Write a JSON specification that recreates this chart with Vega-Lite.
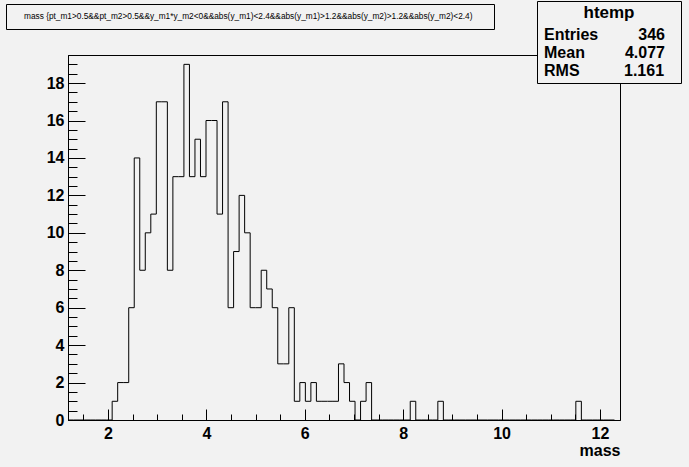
{
  "$schema": "https://vega.github.io/schema/vega-lite/v6.json",
  "autosize": "none",
  "width": 552,
  "height": 365,
  "padding": {"left": 68, "top": 55, "right": 69, "bottom": 47},
  "background": "#f2f2f2",
  "config": {
    "view": {"stroke": "black", "strokeWidth": 1, "fill": "#f2f2f2"},
    "axis": {
      "grid": false,
      "domainColor": "black",
      "tickColor": "black",
      "tickWidth": 1,
      "labelFont": "Liberation Sans",
      "labelFontSize": 16,
      "labelFontWeight": "bold",
      "labelColor": "black",
      "labelOverlap": false,
      "labelFlush": false,
      "titleFont": "Liberation Sans",
      "titleFontSize": 16,
      "titleFontWeight": "bold",
      "titleColor": "black"
    }
  },
  "layer": [
    {
      "data": {"values": [
        {"lo": 1.187, "n": 0}, {"lo": 1.2992, "n": 0}, {"lo": 1.4114, "n": 0}, {"lo": 1.5236, "n": 0},
        {"lo": 1.6358, "n": 0}, {"lo": 1.748, "n": 0}, {"lo": 1.8602, "n": 0}, {"lo": 1.9724, "n": 0},
        {"lo": 2.0846, "n": 1}, {"lo": 2.1968, "n": 2}, {"lo": 2.309, "n": 2}, {"lo": 2.4212, "n": 6},
        {"lo": 2.5334, "n": 14}, {"lo": 2.6456, "n": 8}, {"lo": 2.7578, "n": 10}, {"lo": 2.87, "n": 11},
        {"lo": 2.9822, "n": 17}, {"lo": 3.0944, "n": 17}, {"lo": 3.2066, "n": 8}, {"lo": 3.3188, "n": 13},
        {"lo": 3.431, "n": 13}, {"lo": 3.5432, "n": 19}, {"lo": 3.6554, "n": 13}, {"lo": 3.7676, "n": 15},
        {"lo": 3.8798, "n": 13}, {"lo": 3.992, "n": 16}, {"lo": 4.1042, "n": 16}, {"lo": 4.2164, "n": 11},
        {"lo": 4.3286, "n": 17}, {"lo": 4.4408, "n": 6}, {"lo": 4.553, "n": 9}, {"lo": 4.6652, "n": 12},
        {"lo": 4.7774, "n": 10}, {"lo": 4.8896, "n": 6}, {"lo": 5.0018, "n": 6}, {"lo": 5.114, "n": 8},
        {"lo": 5.2262, "n": 7}, {"lo": 5.3384, "n": 6}, {"lo": 5.4506, "n": 3}, {"lo": 5.5628, "n": 3},
        {"lo": 5.675, "n": 6}, {"lo": 5.7872, "n": 1}, {"lo": 5.8994, "n": 2}, {"lo": 6.0116, "n": 1},
        {"lo": 6.1238, "n": 2}, {"lo": 6.236, "n": 1}, {"lo": 6.3482, "n": 1}, {"lo": 6.4604, "n": 1},
        {"lo": 6.5726, "n": 1}, {"lo": 6.6848, "n": 3}, {"lo": 6.797, "n": 2}, {"lo": 6.9092, "n": 1},
        {"lo": 7.0214, "n": 0}, {"lo": 7.1336, "n": 1}, {"lo": 7.2458, "n": 2}, {"lo": 7.358, "n": 0},
        {"lo": 7.4702, "n": 0}, {"lo": 7.5824, "n": 0}, {"lo": 7.6946, "n": 0}, {"lo": 7.8068, "n": 0},
        {"lo": 7.919, "n": 0}, {"lo": 8.0312, "n": 0}, {"lo": 8.1434, "n": 1}, {"lo": 8.2556, "n": 0},
        {"lo": 8.3678, "n": 0}, {"lo": 8.48, "n": 0}, {"lo": 8.5922, "n": 0}, {"lo": 8.7044, "n": 1},
        {"lo": 8.8166, "n": 0}, {"lo": 8.9288, "n": 0}, {"lo": 9.041, "n": 0}, {"lo": 9.1532, "n": 0},
        {"lo": 9.2654, "n": 0}, {"lo": 9.3776, "n": 0}, {"lo": 9.4898, "n": 0}, {"lo": 9.602, "n": 0},
        {"lo": 9.7142, "n": 0}, {"lo": 9.8264, "n": 0}, {"lo": 9.9386, "n": 0}, {"lo": 10.0508, "n": 0},
        {"lo": 10.163, "n": 0}, {"lo": 10.2752, "n": 0}, {"lo": 10.3874, "n": 0}, {"lo": 10.4996, "n": 0},
        {"lo": 10.6118, "n": 0}, {"lo": 10.724, "n": 0}, {"lo": 10.8362, "n": 0}, {"lo": 10.9484, "n": 0},
        {"lo": 11.0606, "n": 0}, {"lo": 11.1728, "n": 0}, {"lo": 11.285, "n": 0}, {"lo": 11.3972, "n": 0},
        {"lo": 11.5094, "n": 1}, {"lo": 11.6216, "n": 0}, {"lo": 11.7338, "n": 0}, {"lo": 11.846, "n": 0},
        {"lo": 11.9582, "n": 0}, {"lo": 12.0704, "n": 0}, {"lo": 12.1826, "n": 0}, {"lo": 12.2948, "n": 0}
      ]},
      "mark": {"type": "line", "interpolate": "step-after", "color": "black", "strokeWidth": 1},
      "encoding": {
        "x": {
          "field": "lo", "type": "quantitative",
          "scale": {"domain": [1.187, 12.407], "nice": false, "zero": false},
          "axis": {
            "title": "mass",
            "titleAnchor": "end",
            "titlePadding": -4,
            "values": [1.5, 2, 2.5, 3, 3.5, 4, 4.5, 5, 5.5, 6, 6.5, 7, 7.5, 8, 8.5, 9, 9.5, 10, 10.5, 11, 11.5, 12],
            "tickSize": {"condition": {"test": "datum.value % 2 === 0", "value": -11}, "value": -6},
            "labelPadding": 16,
            "labelExpr": "datum.value % 2 === 0 ? format(datum.value, 'd') : ''"
          }
        },
        "y": {
          "field": "n", "type": "quantitative",
          "scale": {"domain": [0, 19.5], "nice": false},
          "axis": {
            "title": null,
            "values": [0, 0.5, 1, 1.5, 2, 2.5, 3, 3.5, 4, 4.5, 5, 5.5, 6, 6.5, 7, 7.5, 8, 8.5, 9, 9.5, 10, 10.5, 11, 11.5, 12, 12.5, 13, 13.5, 14, 14.5, 15, 15.5, 16, 16.5, 17, 17.5, 18, 18.5, 19, 19.5],
            "tickSize": {"condition": {"test": "datum.value % 2 === 0", "value": -17}, "value": -9},
            "labelPadding": 21,
            "labelExpr": "datum.value % 2 === 0 ? format(datum.value, 'd') : ''"
          }
        }
      }
    },
    {
      "data": {"values": [
        {"stat": "Entries", "value": "346"},
        {"stat": "Mean", "value": "4.077"},
        {"stat": "RMS", "value": "1.161"}
      ]},
      "mark": {"type": "point", "opacity": 0, "size": 1},
      "encoding": {
        "color": {
          "field": "stat", "type": "nominal",
          "scale": {"range": ["black"]},
          "legend": {
            "orient": "none", "legendX": 469, "legendY": -54,
            "title": "htemp",
            "titleFont": "Liberation Sans", "titleFontSize": 17, "titleFontWeight": "bold", "titleColor": "black",
            "titleAnchor": "middle", "titlePadding": 5,
            "padding": 4, "strokeColor": "black", "fillColor": "#f2f2f2",
            "symbolSize": 1, "symbolOpacity": 0, "symbolStrokeWidth": 0,
            "labelOffset": -13, "rowPadding": 2,
            "labelFont": "Liberation Sans", "labelFontSize": 16, "labelFontWeight": "bold", "labelColor": "black", "labelLimit": 0,
            "labelExpr": "datum.label == 'Entries' ? 'Entries\u00a0\u00a0\u00a0\u00a0\u00a0\u00a0\u00a0\u00a0\u00a0346\u2800' : datum.label == 'Mean' ? 'Mean\u00a0\u00a0\u00a0\u00a0\u00a0\u00a0\u00a0\u00a0\u00a04.077' : 'RMS\u00a0\u00a0\u00a0\u00a0\u00a0\u00a0\u00a0\u00a0\u00a0\u00a01.161'"
          }
        }
      }
    },
    {
      "data": {"values": [
        {"cut": "mass {pt_m1>0.5&&pt_m2>0.5&&y_m1*y_m2<0&&abs(y_m1)<2.4&&abs(y_m1)>1.2&&abs(y_m2)>1.2&&abs(y_m2)<2.4)"}
      ]},
      "mark": {"type": "point", "opacity": 0, "size": 1},
      "encoding": {
        "shape": {
          "field": "cut", "type": "nominal",
          "legend": {
            "orient": "none", "legendX": -62, "legendY": -51,
            "title": null,
            "padding": 8, "strokeColor": "black", "fillColor": "#f2f2f2",
            "symbolSize": 81, "symbolOpacity": 0, "symbolStrokeWidth": 0, "symbolFillColor": "transparent",
            "labelOffset": 1,
            "labelFont": "Liberation Sans", "labelFontSize": 8.3, "labelColor": "black", "labelLimit": 0,
            "labelExpr": "datum.label + '\u00a0\u00a0\u00a0\u2800'"
          }
        }
      }
    }
  ]
}
